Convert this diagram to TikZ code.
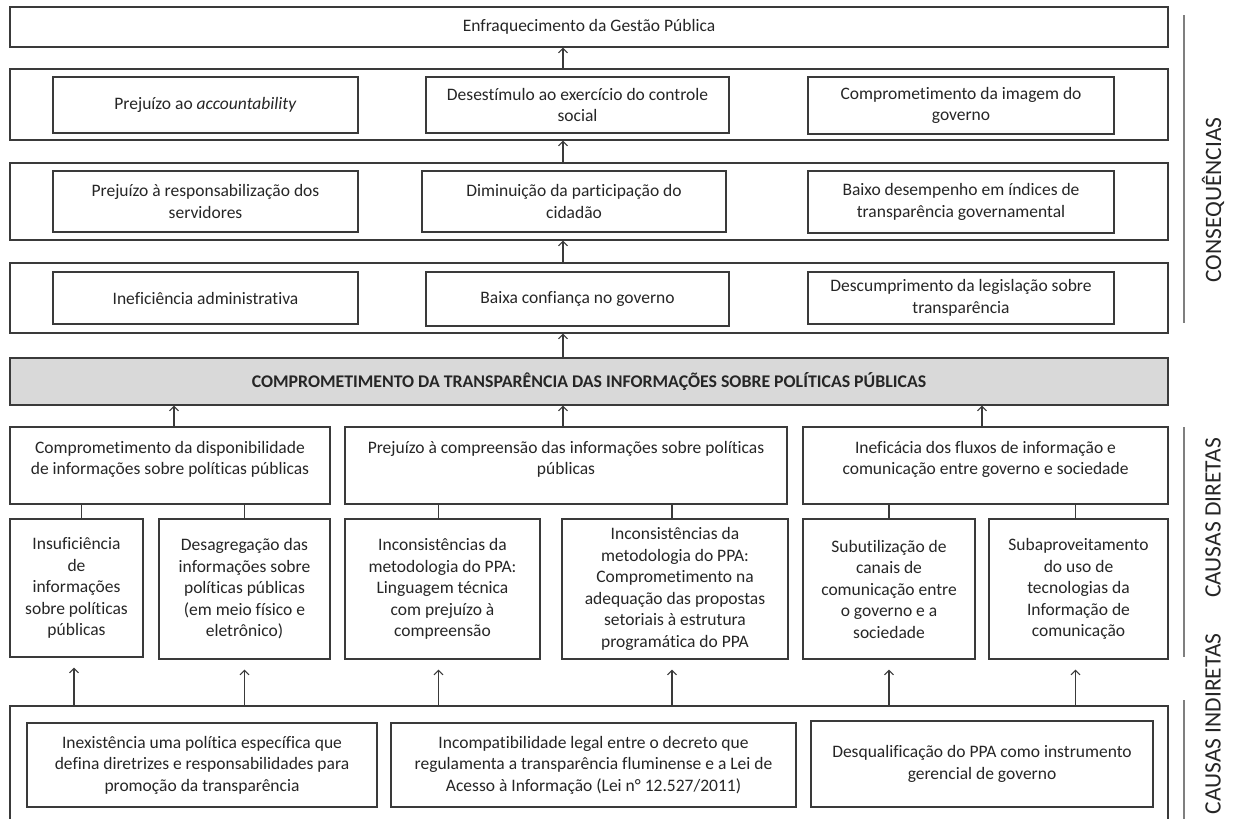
\documentclass[tikz,border=0pt]{standalone}
\usepackage{fontspec}
\setmainfont{Carlito}[Ligatures=NoCommon]
\usetikzlibrary{arrows.meta}
\definecolor{ln}{HTML}{3A3A3A}
\definecolor{tx}{HTML}{262626}
\definecolor{gfill}{HTML}{D9D9D9}
\definecolor{sep}{HTML}{7F7F7F}
\newcommand\mkbox[7][]{%
  \pgfmathsetmacro\bxcx{(#3+#5)/2}\pgfmathsetmacro\bxcy{(#4+#6)/2}%
  \pgfmathsetmacro\bxw{#5-#3}\pgfmathsetmacro\bxh{#6-#4}%
  \node[boxed,#1,minimum width=\bxw pt,minimum height=\bxh pt] (#2) at (\bxcx,\bxcy) {#7};}
\begin{document}
\begin{tikzpicture}[x=1pt,y=-1pt,
  boxed/.style={draw=ln,line width=1.1pt,fill=white,align=center,inner sep=0pt,text=tx,
    font=\fontsize{17.5}{21.5}\selectfont},
  graybox/.style={fill=gfill,font=\fontsize{17.8}{20}\selectfont\bfseries},
  upper/.style={text depth=15pt},
  arr/.style={draw=ln,line width=1.1pt,-{Straight Barb[length=4.5pt,width=9pt]}},
  link/.style={draw=ln,line width=1.1pt},
  sepline/.style={draw=sep,line width=1.6pt},
  lab/.style={rotate=90,text=tx,font=\fontsize{23.5}{27}\selectfont,inner sep=0pt}]
\useasboundingbox (0,0) rectangle (1234,819);
\clip (0,0) rectangle (1234,819);
\fill[white] (0,0) rectangle (1234,819);
% consequences
\mkbox{top}{10}{7}{1168}{47}{Enfraquecimento da Gestão Pública}
\mkbox{c2}{10}{69}{1168}{140}{}
\mkbox{b2a}{53}{77}{358}{133}{Prejuízo ao \textit{accountability}}
\mkbox{b2b}{426}{77}{729}{133}{Desestímulo ao exercício do controle\\social}
\mkbox{b2c}{808}{77}{1114}{134}{Comprometimento da imagem do\\governo}
\mkbox{c3}{10}{163}{1168}{240}{}
\mkbox{b3a}{53}{171}{358}{232}{Prejuízo à responsabilização dos\\servidores}
\mkbox{b3b}{422}{171}{726}{232}{Diminuição da participação do\\cidadão}
\mkbox{b3c}{808}{171}{1114}{233}{Baixo desempenho em índices de\\transparência governamental}
\mkbox{c4}{10}{263}{1168}{333}{}
\mkbox{b4a}{53}{272}{358}{324}{Ineficiência administrativa}
\mkbox{b4b}{426}{272}{729}{326}{Baixa confiança no governo}
\mkbox{b4c}{808}{272}{1114}{324}{Descumprimento da legislação sobre\\transparência}
% central problem
\mkbox[graybox]{g}{10}{358}{1168}{405}{COMPROMETIMENTO DA TRANSPARÊNCIA DAS INFORMAÇÕES SOBRE POLÍTICAS PÚBLICAS}
% direct causes
\mkbox[upper]{r5a}{10}{427}{330}{504}{Comprometimento da disponibilidade\\de informações sobre políticas públicas}
\mkbox[upper]{r5b}{345}{427}{787}{504}{Prejuízo à compreensão das informações sobre políticas\\públicas}
\mkbox[upper]{r5c}{803}{427}{1168}{504}{Ineficácia dos fluxos de informação e\\comunicação entre governo e sociedade}
\mkbox{r6a}{10}{519}{143}{657}{Insuficiência\\de\\informações\\sobre políticas\\públicas}
\mkbox{r6b}{159}{519}{330}{659}{Desagregação das\\informações sobre\\políticas públicas\\(em meio físico e\\eletrônico)}
\mkbox{r6c}{345}{519}{540}{659}{Inconsistências da\\metodologia do PPA:\\Linguagem técnica\\com prejuízo à\\compreensão}
\mkbox{r6d}{562}{519}{788}{659}{Inconsistências da\\metodologia do PPA:\\Comprometimento na\\adequação das propostas\\setoriais à estrutura\\programática do PPA}
\mkbox{r6e}{803}{519}{975}{659}{Subutilização de\\canais de\\comunicação entre\\o governo e a\\sociedade}
\mkbox{r6f}{989}{519}{1168}{659}{Subaproveitamento\\do uso de\\tecnologias da\\Informação de\\comunicação}
% indirect causes
\mkbox{c7}{10}{706}{1168}{860}{}
\mkbox{r7a}{27}{723}{377}{807}{Inexistência uma política específica que\\defina diretrizes e responsabilidades para\\promoção da transparência}
\mkbox{r7b}{391}{723}{796}{807}{Incompatibilidade legal entre o decreto que\\regulamenta a transparência fluminense e a Lei de\\Acesso à Informação (Lei n° 12.527/2011)}
\mkbox{r7c}{811}{721}{1153}{807}{Desqualificação do PPA como instrumento\\gerencial de governo}
% axis of the vertical chain
\coordinate (ax) at (563,0);
\draw[arr] (c2.north -| ax) -- (top.south -| ax);
\draw[arr] (c3.north -| ax) -- (c2.south -| ax);
\draw[arr] (c4.north -| ax) -- (c3.south -| ax);
\draw[arr] (g.north -| ax) -- (c4.south -| ax);
\coordinate (xa) at (174,0);
\coordinate (xc) at (982,0);
\draw[arr] (r5a.north -| xa) -- (g.south -| xa);
\draw[arr] (r5b.north -| ax) -- (g.south -| ax);
\draw[arr] (r5c.north -| xc) -- (g.south -| xc);
% links direct causes -> sub-causes
\draw[link] ([xshift=5pt]r6a.north) -- ([xshift=5pt]r6a.north |- r5a.south);
\draw[link] (r6b.north) -- (r6b.north |- r5a.south);
\draw[link] ([xshift=-4pt]r6c.north) -- ([xshift=-4pt]r6c.north |- r5b.south);
\draw[link] ([xshift=-3pt]r6d.north) -- ([xshift=-3pt]r6d.north |- r5b.south);
\draw[link] (r6e.north) -- (r6e.north |- r5c.south);
\draw[link] ([xshift=-3pt]r6f.north) -- ([xshift=-3pt]r6f.north |- r5c.south);
% arrows from indirect causes
\foreach \nm/\dx in {r6a/-2.5,r6b/0,r6c/-4,r6d/-3,r6e/0,r6f/-3}{
  \draw[arr] ([xshift=\dx pt]\nm.south |- c7.north) -- ([xshift=\dx pt,yshift=-10pt]\nm.south);
}
% side labels
\coordinate (s1a) at (1184,15); \coordinate (s1b) at (1184,323);
\coordinate (s2a) at (1184,427); \coordinate (s2b) at (1184,657);
\coordinate (s3a) at (1184,700); \coordinate (s3b) at (1184,830);
\draw[sepline] (s1a) -- (s1b);
\draw[sepline] (s2a) -- (s2b);
\draw[sepline] (s3a) -- (s3b);
\node[lab] (l1) at (1213,200) {CONSEQUÊNCIAS};
\node[lab] (l2) at (1213,518) {CAUSAS DIRETAS};
\node[lab] (l3) at (1213,724) {CAUSAS INDIRETAS};
\end{tikzpicture}
\end{document}
